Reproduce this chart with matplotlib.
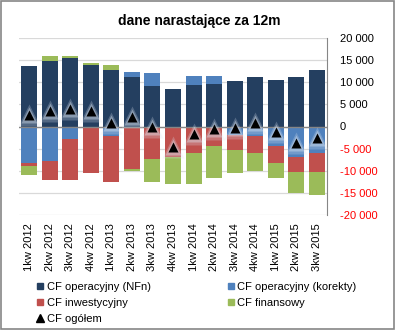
import numpy as np
import matplotlib
matplotlib.use('Agg')
import matplotlib.pyplot as plt
from matplotlib.lines import Line2D
from matplotlib.patches import Rectangle

plt.rcParams['font.family'] = ['Liberation Sans', 'DejaVu Sans']

quarters = ['1kw 2012', '2kw 2012', '3kw 2012', '4kw 2012',
            '1kw 2013', '2kw 2013', '3kw 2013', '4kw 2013',
            '1kw 2014', '2kw 2014', '3kw 2014', '4kw 2014',
            '1kw 2015', '2kw 2015', '3kw 2015']
nfn = [13600, 14700, 15400, 14000, 12700, 11100, 9050, 8400,
       9300, 9500, 10200, 11100, 10600, 11100, 12700]
korekty = [-8150, -7700, -2900, 0, -2250, 1150, 3150, -450,
           2050, 1800, -1900, -2250, -4300, -6800, -5900]
inwest = [-800, -4500, -9100, -10400, -10400, -9700, -7250, -6550,
          -6100, -4500, -3300, -3850, -4050, -3400, -4300]
finans = [-1900, 1150, 450, 250, 1150, -300, -5200, -6100,
          -6800, -7250, -5200, -4050, -3400, -4750, -5200]
ogolem = [2500, 3400, 3850, 3550, 850, 2200, -150, -4650,
          -1700, -500, -400, 750, -1350, -3750, -2650]

names = ['CF operacyjny (NFn)', 'CF operacyjny (korekty)',
         'CF inwestycyjny', 'CF finansowy']
colors = ['#243F60', '#4F81BD', '#C0504D', '#9BBB59']

fig = plt.figure(figsize=(3.98, 3.30), dpi=100)
ax = fig.add_axes([19/398, 1-215/330, (327-19)/398, (215-38)/330])

x = np.arange(len(quarters))
pos_base = np.zeros(len(x))
neg_base = np.zeros(len(x))
for vals, c in zip([nfn, korekty, inwest, finans], colors):
    v = np.array(vals, dtype=float)
    b = np.where(v >= 0, pos_base, neg_base)
    ax.bar(x, v, bottom=b, width=0.78, color=c, zorder=2)
    pos_base += np.where(v >= 0, v, 0)
    neg_base += np.where(v < 0, v, 0)

# glow around triangles
ax.plot(x, ogolem, '^', ms=16, color='#DDE6F2', alpha=0.25, mec='none', zorder=3)
ax.plot(x, ogolem, '^', ms=12, color='#DDE6F2', alpha=0.4, mec='none', zorder=3)
ax.plot(x, ogolem, '^', ms=7, color='black', mec='none', zorder=4)

ax.axhline(0, color='#868686', lw=1, zorder=2.5)
ax.set_xlim(-0.5, len(x) - 0.5)
ax.set_ylim(-20000, 20000)
ax.set_yticks(np.arange(-20000, 20001, 5000))
ax.yaxis.grid(True, color='#D9D9D9', lw=0.9)
ax.set_axisbelow(True)
ax.yaxis.tick_right()
ax.set_yticklabels([('{:,}'.format(t)).replace(',', ' ') for t in range(-20000, 20001, 5000)])
for lab, t in zip(ax.get_yticklabels(), range(-20000, 20001, 5000)):
    lab.set_color('red' if t < 0 else 'black')
ax.tick_params(axis='y', length=0, pad=9, labelsize=8)
ax.set_xticks(x)
ax.set_xticklabels(quarters, rotation=90, fontsize=8)
ax.tick_params(axis='x', length=0, pad=6)
for s in ['top', 'left', 'bottom']:
    ax.spines[s].set_visible(False)
ax.spines['right'].set_color('#868686')

fig.text(199/398, 1-21/330, 'dane narastające za 12m', ha='center', va='center',
         fontsize=10, fontweight='bold')

h = [Line2D([], [], ls='none', marker='s', ms=5, color=c) for c in colors]
h_tot = Line2D([], [], ls='none', marker='^', ms=6, color='black')
handles = [h[0], h[2], h_tot, h[1], h[3]]
labels = [names[0], names[2], 'CF ogółem', names[1], names[3]]
fig.legend(handles, labels, ncol=2, loc='upper left', bbox_to_anchor=(31/398, 1-276/330),
           frameon=False, fontsize=8, handlelength=0.6, handletextpad=0.3,
           columnspacing=6.9, labelspacing=0.55, borderpad=0)

fig.patches.append(Rectangle((0.002, 0.002), 0.988, 0.994, transform=fig.transFigure,
                             fill=False, edgecolor='#868686', lw=1.2))

fig.savefig('out.png', dpi=100)
